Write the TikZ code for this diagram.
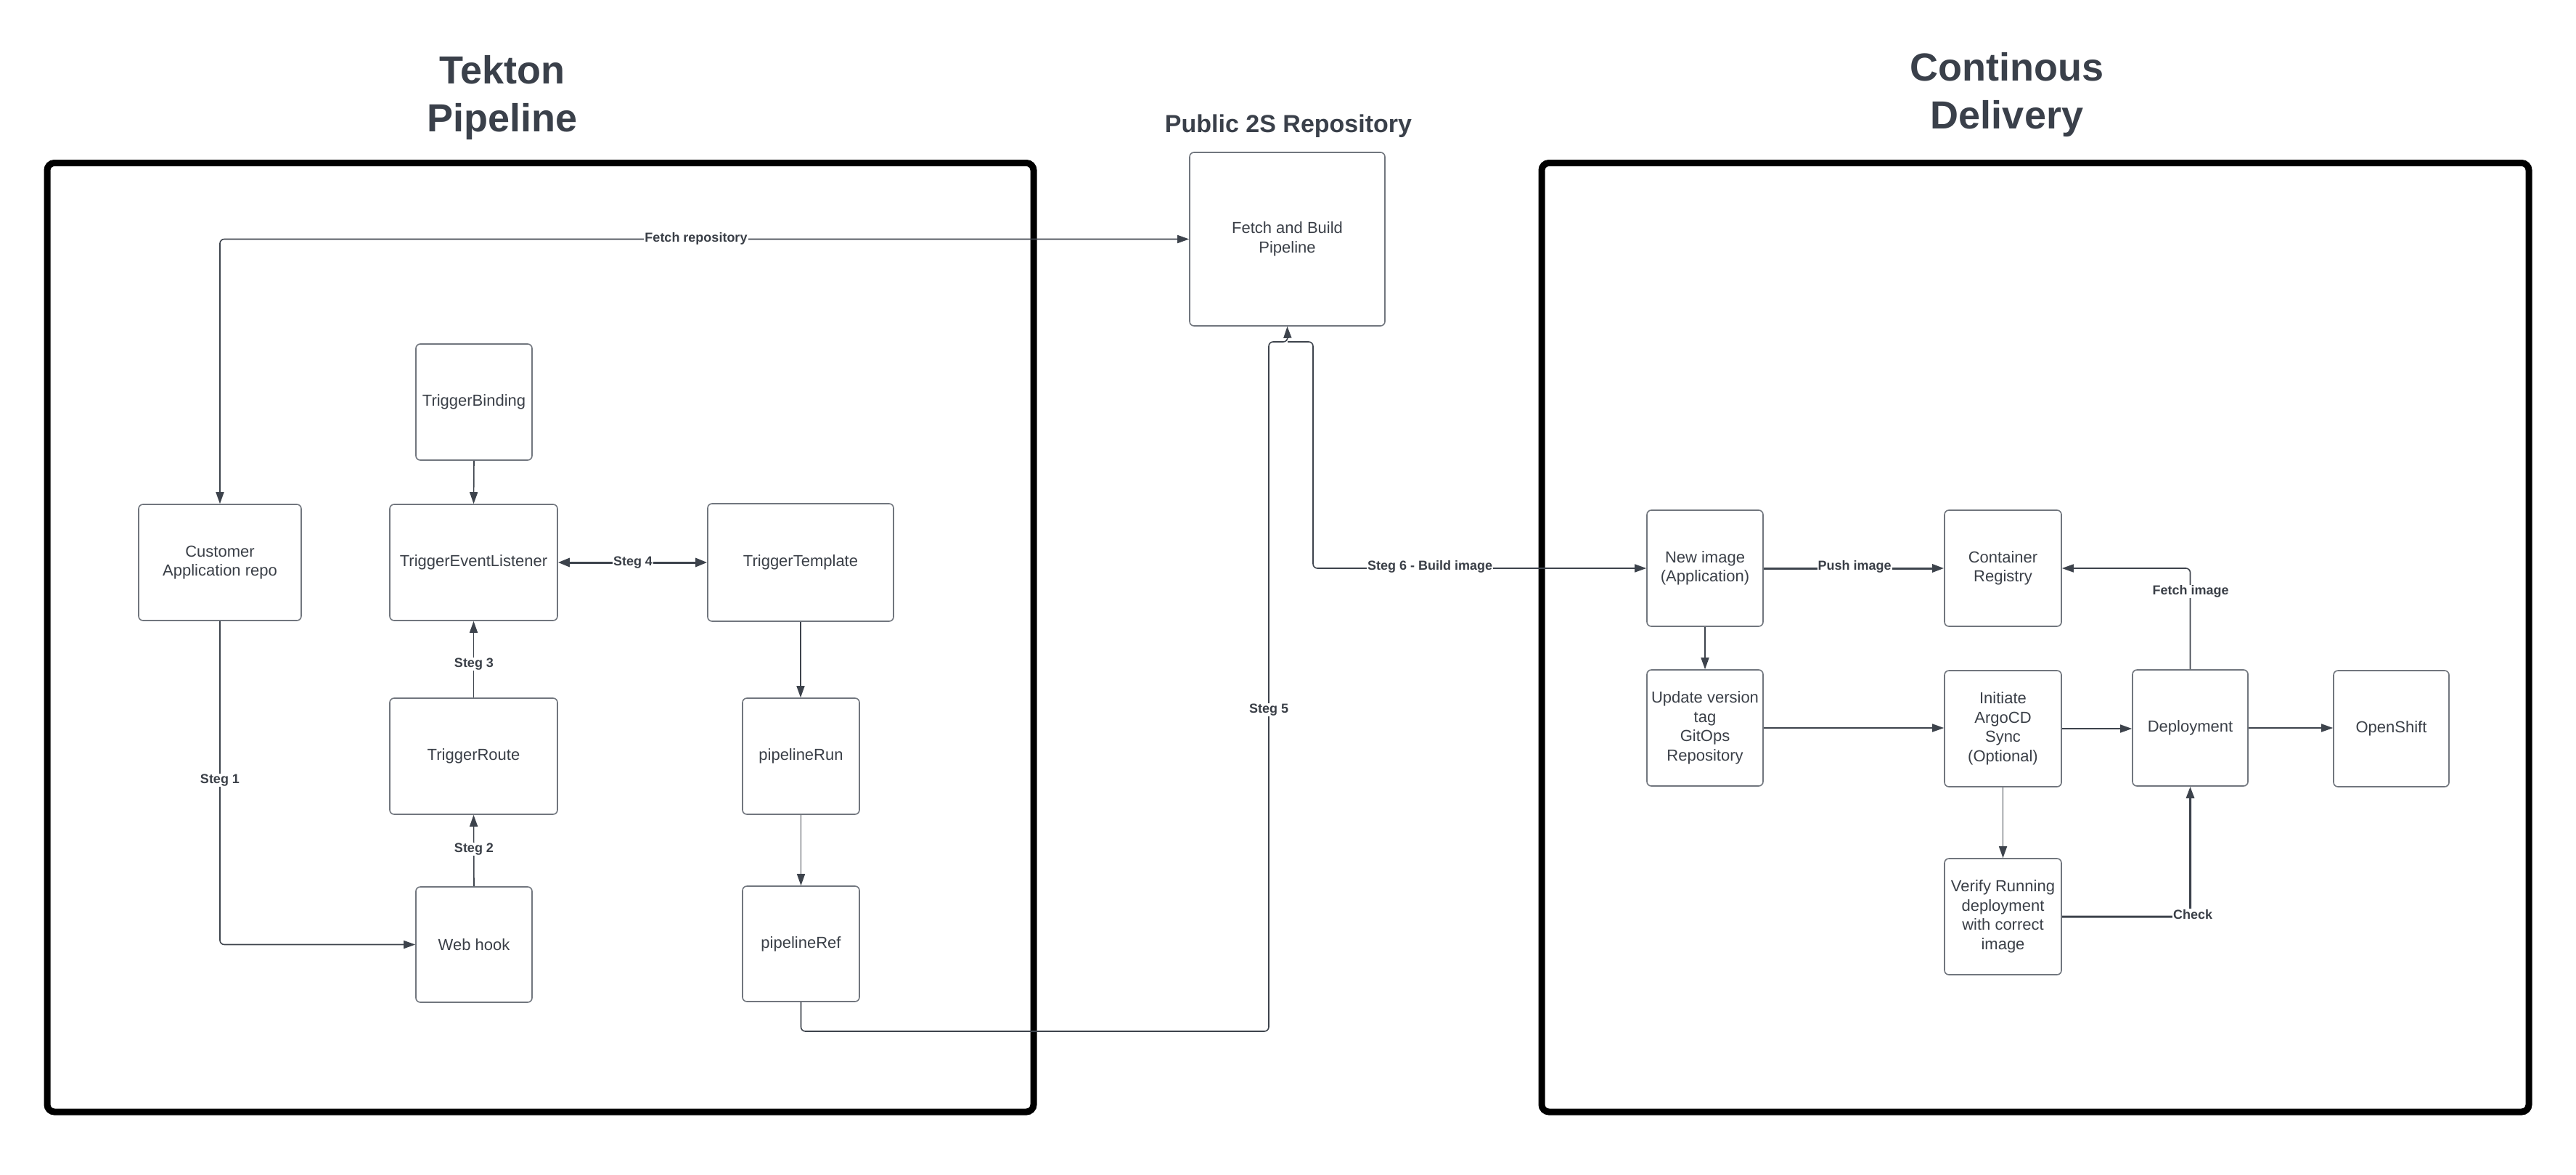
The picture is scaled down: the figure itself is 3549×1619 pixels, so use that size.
\documentclass[tikz,border=0pt]{standalone}
\usepackage{fontspec}
\setmainfont{Liberation Sans}
\usetikzlibrary{arrows.meta}
\definecolor{linec}{HTML}{3D434C}
\definecolor{boxc}{HTML}{71767E}
\definecolor{txtc}{HTML}{3A3F47}
\definecolor{titc}{HTML}{3A404A}
\begin{document}
\begin{tikzpicture}[x=1pt,y=-1pt,
  box/.style={draw=boxc, line width=1.6pt, rounded corners=6pt, text=txtc, align=center,
    font=\fontsize{22}{26.5}\selectfont, inner sep=0pt},
  conn/.style={draw=linec, line width=1.6pt, rounded corners=6pt, -{Triangle[length=16pt,width=11pt]}},
  thickconn/.style={conn, line width=3pt},
  lbl/.style={fill=white, text=txtc, font=\bfseries\fontsize{18}{21}\selectfont, inner sep=1pt},
  frame/.style={draw=black, line width=9pt, rounded corners=10pt},
  title/.style={text=titc, anchor=base, inner sep=0pt}]
\useasboundingbox (0,0) rectangle (3549,1619);

% frames
\draw[frame] (65,224.5) rectangle (1424,1532);
\draw[frame] (2124,224.5) rectangle (3484,1532);

% titles
\node[title, font=\bfseries\fontsize{54}{66}\selectfont] (t1a) at (692,115) {Tekton};
\node[title, font=\bfseries\fontsize{54}{66}\selectfont] (t1b) at (692,181) {Pipeline};
\node[title, font=\bfseries\fontsize{54}{66}\selectfont] (t2a) at (2765,111) {Continous};
\node[title, font=\bfseries\fontsize{54}{66}\selectfont] (t2b) at (2765,177) {Delivery};
\node[title, font=\bfseries\fontsize{34}{40}\selectfont] (t3) at (1775,182) {Public 2S Repository};

% left panel boxes
\node[box, minimum width=224pt, minimum height=160pt] (cust) at (303,775) {Customer\\Application repo};
\node[box, minimum width=160pt, minimum height=160pt] (tb) at (653,554) {TriggerBinding};
\node[box, minimum width=231pt, minimum height=160pt] (tel) at (652.5,775) {TriggerEventListener};
\node[box, minimum width=256pt, minimum height=162pt] (tt) at (1103,775) {TriggerTemplate};
\node[box, minimum width=231pt, minimum height=160pt] (tr) at (652.5,1042) {TriggerRoute};
\node[box, minimum width=160pt, minimum height=159pt] (wh) at (653,1301.5) {Web hook};
\node[box, minimum width=161pt, minimum height=160pt] (pr) at (1103.5,1042) {pipelineRun};
\node[box, minimum width=161pt, minimum height=159pt] (pref) at (1103.5,1300.5) {pipelineRef};

% middle box
\node[box, minimum width=269pt, minimum height=239pt] (fab) at (1773.5,329.5) {Fetch and Build\\Pipeline};

% right panel boxes
\node[box, minimum width=160pt, minimum height=160pt] (ni) at (2349,783) {New image\\(Application)};
\node[box, minimum width=161pt, minimum height=160pt] (cr) at (2759.5,783) {Container\\Registry};
\node[box, minimum width=160pt, minimum height=160pt] (uv) at (2349,1003) {Update version\\tag\\GitOps\\Repository};
\node[box, minimum width=161pt, minimum height=160pt] (ia) at (2759.5,1004) {Initiate\\ArgoCD\\Sync\\(Optional)};
\node[box, minimum width=159pt, minimum height=160pt] (dep) at (3017.5,1003) {Deployment};
\node[box, minimum width=159pt, minimum height=160pt] (os) at (3294.5,1004) {OpenShift};
\node[box, minimum width=161pt, minimum height=160pt] (vr) at (2759.5,1263) {Verify Running\\deployment\\with correct\\image};

% helper coordinates
\coordinate (s5a) at (1748,1421);
\coordinate (bump) at (1774,471);
\coordinate (s6b) at (1809,783);

% connectors left
\draw[conn, {Triangle[length=16pt,width=11pt]}-{Triangle[length=16pt,width=11pt]}] (cust.north) |- (fab.west);
\draw[conn] (cust.south) |- (wh.west);
\draw[conn] (wh.north) -- (tr.south);
\draw[conn] (tr.north) -- (tel.south);
\draw[conn] (tb.south) -- (tel.north);
\draw[thickconn, {Triangle[length=16pt,width=12pt]}-{Triangle[length=16pt,width=12pt]}] (tel.east) -- (tel.east -| tt.west);
\draw[conn] (tt.south) -- (tt.south |- pr.north);
\draw[conn] (pr.south) -- (pref.north);
\draw[conn] (pref.south) |- (s5a) |- (bump) -- (fab.south);
\draw[conn] (bump) -| (s6b) -- (ni.west);

% connectors right
\draw[thickconn] (ni.east) -- (cr.west);
\draw[conn] (ni.south) -- (uv.north);
\draw[conn] (uv.east) -- (uv.east -| ia.west);
\draw[conn] (ia.east) -- (ia.east -| dep.west);
\draw[conn] (dep.east) -- (dep.east -| os.west);
\draw[conn] (ia.south) -- (vr.north);
\draw[thickconn] (vr.east) -| (dep.south);
\draw[conn] (dep.north) |- (cr.east);

% labels
\node[lbl] (lfr) at (959,329) {Fetch repository};
\node[lbl] (l1) at (303,1075) {Steg 1};
\node[lbl] (l2) at (653,1170) {Steg 2};
\node[lbl] (l3) at (653,915) {Steg 3};
\node[lbl] (l4) at (872,775) {Steg 4};
\node[lbl] (l5) at (1748,978) {Steg 5};
\node[lbl] (l6) at (1970,781) {Steg 6 - Build image};
\node[lbl] (lpush) at (2555,781) {Push image};
\node[lbl] (lfetch) at (3018,815) {Fetch image};
\node[lbl] (lcheck) at (3021,1260) {Check};
\end{tikzpicture}
\end{document}
